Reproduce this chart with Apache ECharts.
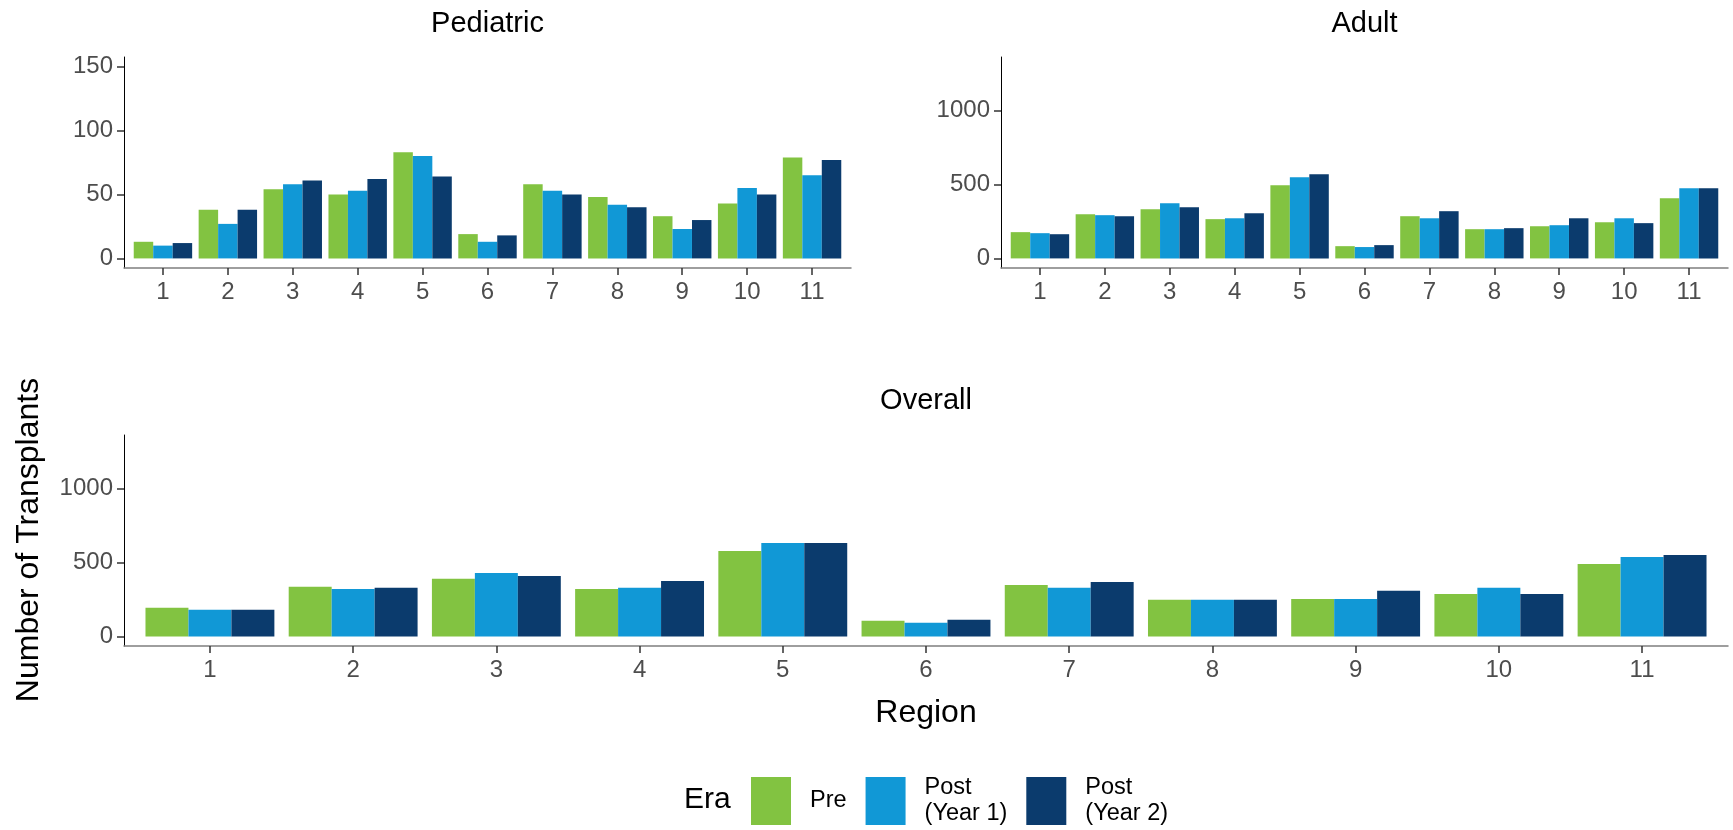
<!DOCTYPE html>
<html><head><meta charset="utf-8">
<script src="https://cdn.jsdelivr.net/npm/echarts@6/dist/echarts.min.js"></script>
<style>html,body{margin:0;padding:0;background:#fff}#c{width:1733px;height:830px}</style>
</head><body><div id="c"></div>
<script>
const regions = [1, 2, 3, 4, 5, 6, 7, 8, 9, 10, 11];
const eras = ['Pre', 'Post (Year 1)', 'Post (Year 2)'];

const pedPre = [13, 38, 54, 50, 83, 19, 58, 48, 33, 43, 79];
const pedY1  = [10, 27, 58, 53, 80, 13, 53, 42, 23, 55, 65];
const pedY2  = [12, 38, 61, 62, 64, 18, 50, 40, 30, 50, 77];

const adPre = [178, 300, 333, 266, 495, 83, 286, 198, 218, 245, 408];
const adY1  = [171, 293, 374, 272, 550, 77, 272, 198, 225, 272, 475];
const adY2  = [164, 286, 347, 306, 570, 90, 320, 205, 272, 239, 475];

const allPre = [194, 336, 390, 322, 579, 106, 349, 248, 254, 288, 491];
const allY1  = [180, 322, 430, 329, 633, 92, 329, 248, 254, 329, 538];
const allY2  = [180, 329, 410, 376, 633, 113, 369, 248, 309, 288, 552];

const pedTicks = [0, 50, 100, 150];
const bigTicks = [0, 500, 1000];

const colors = ['#82C341', '#1198D6', '#0B3B6D'];
const FONT = '"Liberation Sans", Arial, Helvetica, sans-serif';

const panels = [
  {grid: {left: 124, top: 57, width: 727, height: 211}, min: -7.5, max: 157.5, ticks: pedTicks, data: [pedPre, pedY1, pedY2]},
  {grid: {left: 1001, top: 57, width: 727, height: 211}, min: -65, max: 1365, ticks: bigTicks, data: [adPre, adY1, adY2]},
  {grid: {left: 124, top: 435, width: 1604, height: 211}, min: -65, max: 1365, ticks: bigTicks, data: [allPre, allY1, allY2]}
];

const grids = [], xAxes = [], yAxes = [], series = [];
panels.forEach((p, i) => {
  grids.push(Object.assign({containLabel: false}, p.grid));
  xAxes.push({
    type: 'value', gridIndex: i, min: 0.4, max: 11.6,
    splitLine: {show: false},
    axisLine: {show: true, onZero: false, lineStyle: {color: '#7f7f7f', width: 1.5}},
    axisTick: {show: true, length: 7, customValues: regions, lineStyle: {color: '#333', width: 1.5}},
    axisLabel: {customValues: regions, margin: 12, fontSize: 24, color: '#4d4d4d', fontFamily: FONT,
                formatter: v => String(v)}
  });
  yAxes.push({
    type: 'value', gridIndex: i, min: p.min, max: p.max,
    splitLine: {show: false},
    axisLine: {show: true, onZero: false, lineStyle: {color: '#000', width: 1}},
    axisTick: {show: true, length: 7, customValues: p.ticks, lineStyle: {color: '#333', width: 1.5}},
    axisLabel: {customValues: p.ticks, margin: 11, fontSize: 24, color: '#4d4d4d', fontFamily: FONT,
                formatter: v => String(v)}
  });
  eras.forEach((e, k) => {
    series.push({
      type: 'bar', name: e, xAxisIndex: i, yAxisIndex: i,
      data: regions.map((r, j) => [r, p.data[k][j]]),
      itemStyle: {color: colors[k]},
      barGap: '0%', barCategoryGap: '10%',
      emphasis: {disabled: true}
    });
  });
});

function txt(text, x, y, size, rot) {
  return {
    type: 'text', x: x, y: y, rotation: rot || 0, silent: true,
    style: {text: text, fill: '#000', fontSize: size, fontFamily: FONT,
            textAlign: 'center', textVerticalAlign: 'middle', align: 'center', verticalAlign: 'middle'}
  };
}

const chart = echarts.init(document.getElementById('c'), null, {renderer: 'canvas'});
chart.setOption({
  animation: false,
  backgroundColor: '#fff',
  grid: grids,
  xAxis: xAxes,
  yAxis: yAxes,
  series: series,
  legend: {
    left: 746, top: 770, orient: 'horizontal',
    itemWidth: 40, itemHeight: 48, itemGap: 19, icon: 'rect',
    selectedMode: false,
    data: eras,
    formatter: n => n.replace(' (', '\n('),
    textStyle: {fontSize: 23.5, lineHeight: 26, color: '#000', fontFamily: FONT, padding: [0, 0, 0, 14]}
  },
  graphic: [
    txt('Pediatric', 487.5, 23.5, 29),
    txt('Adult', 1364.5, 23.5, 29),
    txt('Overall', 926, 400.5, 29),
    txt('Region', 926, 713, 32),
    txt('Number of Transplants', 29, 540, 32, Math.PI / 2),
    {type: 'text', x: 684, y: 800, silent: true,
     style: {text: 'Era', fill: '#000', fontSize: 30, fontFamily: FONT,
             textAlign: 'left', textVerticalAlign: 'middle', align: 'left', verticalAlign: 'middle'}}
  ]
});
</script>
</body></html>
